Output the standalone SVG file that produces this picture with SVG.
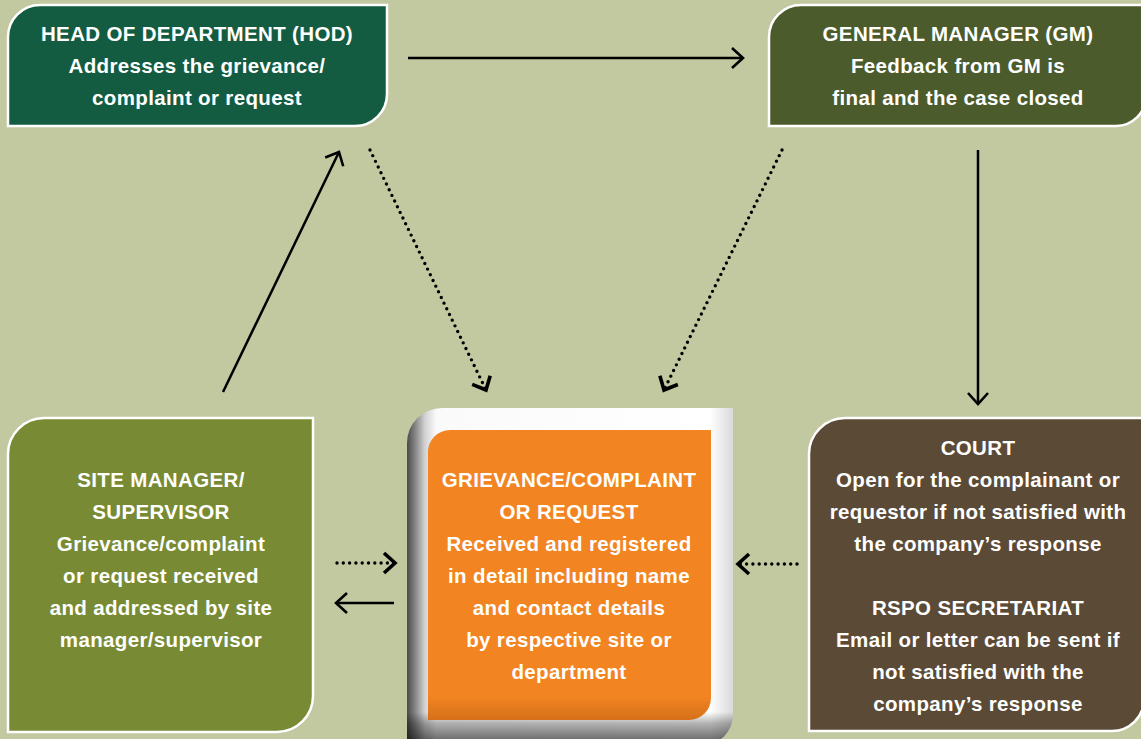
<svg xmlns="http://www.w3.org/2000/svg" width="1141" height="739" viewBox="0 0 1141 739">
<defs>
<style>
.t{fill:#fff;font-family:"Liberation Sans",Arial,Helvetica,sans-serif;font-weight:bold;font-size:20.5px;text-anchor:middle;letter-spacing:0.35px}
.box{stroke:#fff;stroke-width:2.5}
.ln{fill:none;stroke:#000;stroke-width:2.5}
.dot{fill:none;stroke:#000;stroke-width:3.4;stroke-linecap:round;stroke-dasharray:0 6.3}
.hd{fill:none;stroke:#000;stroke-width:2.6;stroke-linejoin:miter;stroke-dasharray:none}
.hdb{fill:none;stroke:#000;stroke-width:3.6;stroke-linejoin:miter;stroke-dasharray:none}
</style>
<marker id="ah" markerUnits="userSpaceOnUse" orient="auto" refX="0" refY="0" markerWidth="30" markerHeight="30" overflow="visible">
<path class="hd" d="M-11,-10 L0,0 L-11,10"/>
</marker>
<marker id="ahb" markerUnits="userSpaceOnUse" orient="auto" refX="0" refY="0" markerWidth="30" markerHeight="30" overflow="visible">
<path class="hdb" d="M-11,-10 L0,0 L-11,10"/>
</marker>
<linearGradient id="bevelH" gradientUnits="userSpaceOnUse" x1="407" y1="0" x2="733" y2="0">
<stop offset="0" stop-color="#4a4a4a"/>
<stop offset="0.025" stop-color="#858585"/>
<stop offset="0.055" stop-color="#d2d2d2"/>
<stop offset="0.09" stop-color="#fafafa"/>
<stop offset="0.93" stop-color="#ffffff"/>
<stop offset="1" stop-color="#d9d9d9"/>
</linearGradient>
<linearGradient id="bevelV" gradientUnits="userSpaceOnUse" x1="0" y1="712" x2="0" y2="745">
<stop offset="0" stop-color="#000" stop-opacity="0"/>
<stop offset="0.35" stop-color="#000" stop-opacity="0.3"/>
<stop offset="1" stop-color="#000" stop-opacity="0.65"/>
</linearGradient>
<linearGradient id="orng" gradientUnits="userSpaceOnUse" x1="0" y1="430" x2="0" y2="720">
<stop offset="0" stop-color="#F28421"/>
<stop offset="0.92" stop-color="#F28421"/>
<stop offset="1" stop-color="#D5701A"/>
</linearGradient>
<clipPath id="outerClip">
<path d="M407,443 A35,35 0 0 1 442,408 H733 V715 A30,30 0 0 1 703,745 H407 Z"/>
</clipPath>
</defs>
<rect x="0" y="0" width="1141" height="739" fill="#C2C8A0"/>

<g id="hod">
<path class="box" fill="#135C42" d="M8,37 A32,32 0 0 1 40,5 H387 V94 A32,32 0 0 1 355,126 H8 Z"/>
<text class="t" x="197" y="41">HEAD OF DEPARTMENT (HOD)</text>
<text class="t" x="197" y="73">Addresses the grievance/</text>
<text class="t" x="197" y="105">complaint or request</text>
</g>

<g id="gm">
<path class="box" fill="#4C5B2B" d="M769,37 A32,32 0 0 1 801,5 H1146 V96 A30,30 0 0 1 1116,126 H769 Z"/>
<text class="t" x="958" y="41">GENERAL MANAGER (GM)</text>
<text class="t" x="958" y="73">Feedback from GM is</text>
<text class="t" x="958" y="105">final and the case closed</text>
</g>

<g id="site">
<path class="box" fill="#788B34" d="M8,454 A36,36 0 0 1 44,418 H313 V696 A36,36 0 0 1 277,732 H8 Z"/>
<text class="t" x="161" y="487">SITE MANAGER/</text>
<text class="t" x="161" y="519">SUPERVISOR</text>
<text class="t" x="161" y="551">Grievance/complaint</text>
<text class="t" x="161" y="583">or request received</text>
<text class="t" x="161" y="615">and addressed by site</text>
<text class="t" x="161" y="647">manager/supervisor</text>
</g>

<g id="center">
<path fill="url(#bevelH)" d="M407,443 A35,35 0 0 1 442,408 H733 V715 A30,30 0 0 1 703,745 H407 Z"/>
<rect x="400" y="700" width="340" height="50" fill="url(#bevelV)" clip-path="url(#outerClip)"/>
<path fill="url(#orng)" d="M428,452 A22,22 0 0 1 450,430 H711 V698 A22,22 0 0 1 689,720 H428 Z"/>
<text class="t" x="569" y="487">GRIEVANCE/COMPLAINT</text>
<text class="t" x="569" y="519">OR REQUEST</text>
<text class="t" x="569" y="551">Received and registered</text>
<text class="t" x="569" y="583">in detail including name</text>
<text class="t" x="569" y="615">and contact details</text>
<text class="t" x="569" y="647">by respective site or</text>
<text class="t" x="569" y="679">department</text>
</g>

<g id="court">
<path class="box" fill="#5B4A36" d="M809,454 A36,36 0 0 1 845,418 H1144 V699 A32,32 0 0 1 1112,731 H809 Z"/>
<text class="t" x="978" y="455">COURT</text>
<text class="t" x="978" y="487">Open for the complainant or</text>
<text class="t" x="978" y="519">requestor if not satisfied with</text>
<text class="t" x="978" y="551">the company’s response</text>
<text class="t" x="978" y="615">RSPO SECRETARIAT</text>
<text class="t" x="978" y="647">Email or letter can be sent if</text>
<text class="t" x="978" y="679">not satisfied with the</text>
<text class="t" x="978" y="711">company’s response</text>
</g>

<g id="connectors">
<line class="ln" x1="408" y1="58" x2="743" y2="58" marker-end="url(#ah)"/>
<line class="ln" x1="978" y1="150" x2="978" y2="404" marker-end="url(#ah)"/>
<line class="ln" x1="223" y1="392" x2="339" y2="152" marker-end="url(#ah)"/>
<line class="dot" x1="370" y1="150" x2="486" y2="390" marker-end="url(#ahb)"/>
<line class="dot" x1="782" y1="150" x2="664" y2="390" marker-end="url(#ahb)"/>
<line class="dot" x1="337" y1="563" x2="395" y2="563" marker-end="url(#ahb)"/>
<line class="ln" x1="394" y1="603" x2="336" y2="603" marker-end="url(#ah)"/>
<line class="dot" x1="797" y1="564" x2="738" y2="564" marker-end="url(#ahb)"/>
</g>
</svg>
